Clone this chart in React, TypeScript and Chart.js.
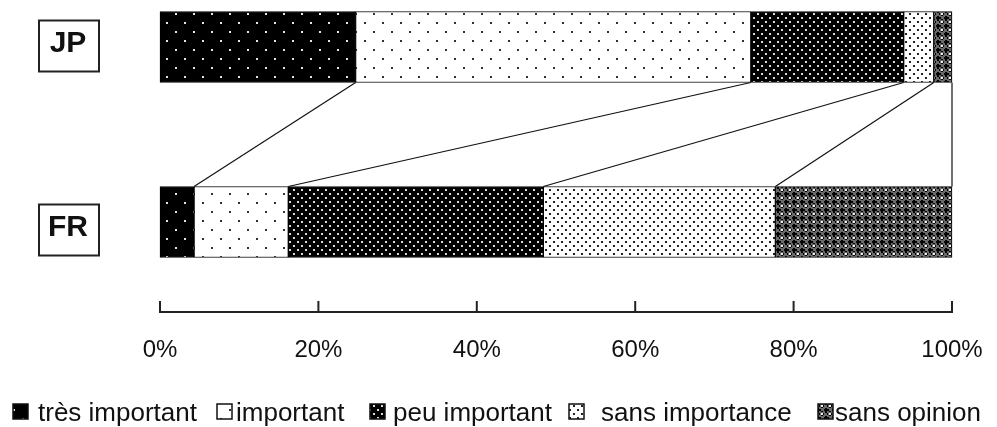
import { useEffect, useRef } from 'react';
import { Chart, registerables } from 'chart.js';

Chart.register(...registerables);

// ---- data ----
const categories = ['JP', 'FR'];
const seriesNames = ['très important', 'important', 'peu important', 'sans importance', 'sans opinion'];
const tresImportant = [24.7, 4.3];
const important = [49.9, 11.9];
const peuImportant = [19.3, 32.2];
const sansImportance = [3.8, 29.3];
const sansOpinion = [2.3, 22.3];
const tickLabels = ['0%', '20%', '40%', '60%', '80%', '100%'];

// ---- layout / style constants ----
const FONT = "'Liberation Sans', Arial, sans-serif";
const LEGEND_BOX_X = [13, 217, 370, 569, 818];
const LEGEND_TEXT_GAP = [10, 4, 8, 17, 2];
const LABEL_BOX_DY = [-1, 8];

function tile(w: number, h: number, draw: (g: CanvasRenderingContext2D) => void) {
  const c = document.createElement('canvas');
  c.width = w;
  c.height = h;
  const g = c.getContext('2d') as CanvasRenderingContext2D;
  draw(g);
  return c;
}

function makePatterns(ctx: CanvasRenderingContext2D) {
  const t1 = tile(18, 18, (g) => {
    g.fillStyle = '#000'; g.fillRect(0, 0, 18, 18);
    g.fillStyle = '#e6e6e6'; g.fillRect(4, 4, 2, 2); g.fillRect(13, 13, 2, 2);
  });
  const t2 = tile(18, 18, (g) => {
    g.fillStyle = '#fff'; g.fillRect(0, 0, 18, 18);
    g.fillStyle = '#333'; g.fillRect(4, 4, 2, 2); g.fillRect(13, 13, 2, 2);
  });
  const t3 = tile(8, 8, (g) => {
    g.fillStyle = '#000'; g.fillRect(0, 0, 8, 8);
    g.fillStyle = '#dcdcdc'; g.fillRect(1, 1, 2, 2); g.fillRect(5, 5, 2, 2);
  });
  const t4 = tile(8, 8, (g) => {
    g.fillStyle = '#fff'; g.fillRect(0, 0, 8, 8);
    g.fillStyle = '#222'; g.fillRect(1, 1, 2, 2); g.fillRect(5, 5, 2, 2);
  });
  const t5 = tile(8, 8, (g) => {
    g.fillStyle = '#6a6a6a'; g.fillRect(0, 0, 8, 8);
    g.fillStyle = '#000';
    g.fillRect(1, 0, 2, 5); g.fillRect(0, 1, 5, 2);
    g.fillRect(5, 3, 2, 1); g.fillRect(3, 5, 1, 2);
    g.fillRect(7, 5, 1, 2); g.fillRect(5, 7, 2, 1);
    g.fillStyle = '#f0f0f0'; g.fillRect(5, 5, 2, 2);
  });
  return [t1, t2, t3, t4, t5].map((t) => ctx.createPattern(t, 'repeat') as CanvasPattern);
}

const overlayPlugin = {
  id: 'overlay',
  afterDraw(chart: any) {
    const ctx: CanvasRenderingContext2D = chart.ctx;
    const area = chart.chartArea;
    const xs = chart.scales.x;
    const ys = chart.scales.y;
    const n = chart.data.datasets.length;

    ctx.save();
    // connector lines between cumulative boundaries
    ctx.strokeStyle = '#111';
    ctx.lineWidth = 1.2;
    for (let d = 0; d < n; d++) {
      const meta = chart.getDatasetMeta(d);
      const a = meta.data[0].getProps(['x', 'y', 'height'], true);
      const b = meta.data[1].getProps(['x', 'y', 'height'], true);
      ctx.beginPath();
      ctx.moveTo(a.x, a.y + a.height / 2);
      ctx.lineTo(b.x, b.y - b.height / 2);
      ctx.stroke();
    }

    // axis line with upward ticks
    const axisY = area.bottom + 90;
    ctx.strokeStyle = '#222';
    ctx.lineWidth = 2;
    ctx.beginPath();
    ctx.moveTo(xs.getPixelForValue(xs.min), axisY);
    ctx.lineTo(xs.getPixelForValue(xs.max), axisY);
    ctx.stroke();
    xs.ticks.forEach((t: any) => {
      const px = xs.getPixelForValue(t.value);
      ctx.beginPath();
      ctx.moveTo(px, axisY + 1);
      ctx.lineTo(px, axisY - 11);
      ctx.stroke();
    });

    // category labels in boxes
    ctx.font = `bold 30px ${FONT}`;
    ctx.textAlign = 'center';
    ctx.textBaseline = 'middle';
    categories.forEach((c, i) => {
      const cy = ys.getPixelForValue(i) + LABEL_BOX_DY[i];
      const right = 99;
      const w = 60;
      const h = 51;
      ctx.fillStyle = '#fff';
      ctx.fillRect(right - w, cy - h / 2, w, h);
      ctx.strokeStyle = '#222';
      ctx.lineWidth = 2;
      ctx.strokeRect(right - w, cy - h / 2, w, h);
      ctx.fillStyle = '#111';
      ctx.fillText(c, right - w / 2 - 1, cy - 2);
    });

    // legend
    ctx.font = `26px ${FONT}`;
    ctx.textAlign = 'left';
    ctx.textBaseline = 'alphabetic';
    chart.data.datasets.forEach((ds: any, i: number) => {
      const bx = LEGEND_BOX_X[i];
      const by = 404;
      const s = 15;
      ctx.fillStyle = ds.backgroundColor;
      ctx.fillRect(bx, by, s, s);
      ctx.strokeStyle = '#111';
      ctx.lineWidth = 1.5;
      ctx.strokeRect(bx, by, s, s);
      ctx.fillStyle = '#111';
      ctx.fillText(ds.label, bx + s + LEGEND_TEXT_GAP[i], 421);
    });
    ctx.restore();
  },
};

export default function App() {
  const ref = useRef<HTMLCanvasElement | null>(null);

  useEffect(() => {
    const canvas = ref.current;
    if (!canvas) return;
    const ctx = canvas.getContext('2d') as CanvasRenderingContext2D;
    const patterns = makePatterns(ctx);
    const values = [tresImportant, important, peuImportant, sansImportance, sansOpinion];

    const chart = new Chart(canvas, {
      type: 'bar',
      data: {
        labels: categories,
        datasets: values.map((v, i) => ({
          label: seriesNames[i],
          data: v,
          backgroundColor: patterns[i],
          borderColor: '#000',
          borderWidth: 1,
          borderSkipped: false,
          barThickness: 71,
          clip: false,
        })) as any,
      },
      options: {
        indexAxis: 'y',
        responsive: false,
        animation: false,
        events: [],
        layout: { padding: { left: 160, right: 45, top: 47, bottom: 0 } },
        plugins: {
          legend: { display: false },
          tooltip: { enabled: false },
        },
        scales: {
          x: {
            type: 'linear',
            stacked: true,
            min: 0,
            max: 100,
            position: 'bottom',
            grid: { display: false, drawTicks: false },
            border: { display: false },
            ticks: {
              stepSize: 20,
              padding: 114,
              color: '#111',
              font: { family: FONT, size: 24 },
              callback: (v: any, i: number) => tickLabels[i] ?? `${v}%`,
            },
            afterFit: (s: any) => {
              s.height = 205;
              s.paddingLeft = 0;
              s.paddingRight = 0;
            },
          },
          y: {
            type: 'category',
            stacked: true,
            offset: false,
            display: false,
            grid: { display: false },
          },
        },
      },
      plugins: [overlayPlugin],
    } as any);

    return () => chart.destroy();
  }, []);

  return (
    <div style={{ position: 'absolute', left: 0, top: 0, width: 997, height: 427, background: '#fff' }}>
      <canvas ref={ref} width={997} height={427} style={{ display: 'block' }} />
    </div>
  );
}
